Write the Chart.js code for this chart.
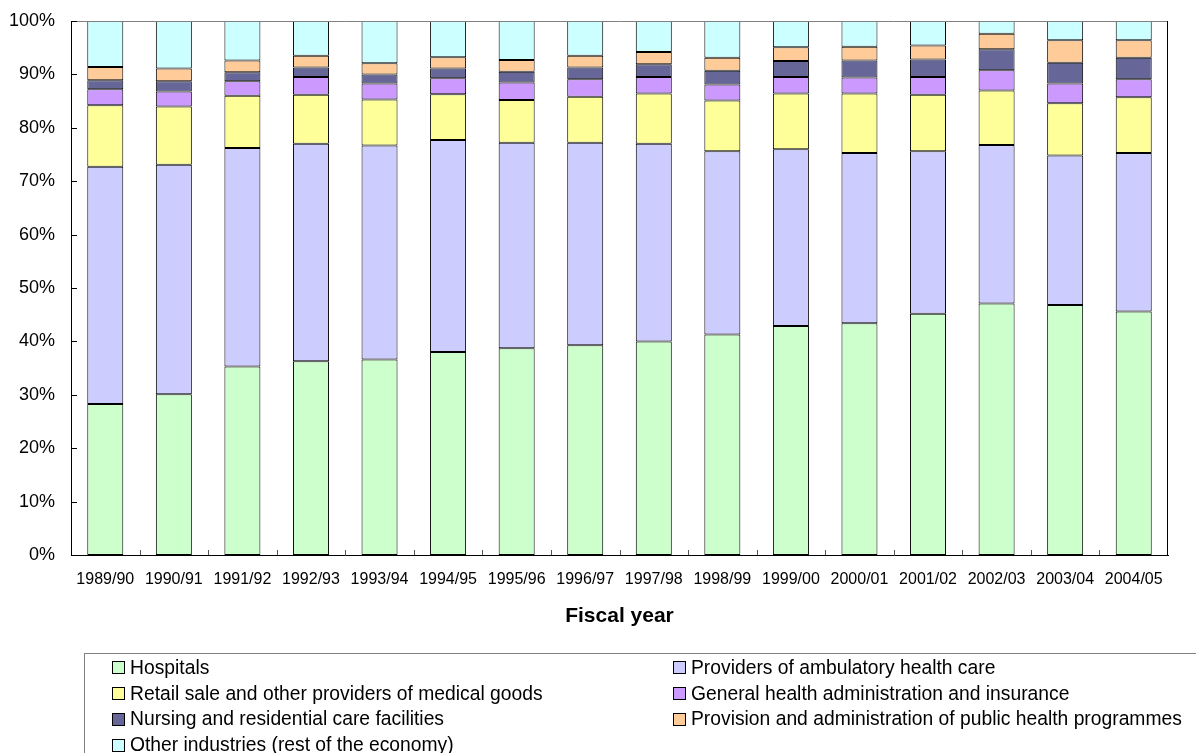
<!DOCTYPE html>
<html>
<head>
<meta charset="utf-8">
<script src="https://cdn.jsdelivr.net/npm/chart.js@4/dist/chart.umd.min.js"></script>
<style>
  html, body { margin: 0; padding: 0; background: #fff; overflow: hidden; }
  #wrap { position: relative; width: 1196px; height: 753px; }
  #chart { position: absolute; left: 0; top: 0; }
  #legend {
    position: absolute; left: 84px; top: 653px; width: 1200px; height: 200px;
    border: 1px solid #808080; box-sizing: border-box;
    display: grid; grid-template-columns: 561px 561px; grid-auto-rows: 25.8px;
    padding: 1px 0 0 27px;
    font-family: 'Liberation Sans', Arial, sans-serif; font-size: 19.3px; color: #000;
  }
  .item { display: flex; align-items: center; white-space: nowrap; }
  .swatch { width: 11px; height: 11px; border: 1px solid #000; margin-right: 5px; flex: none; }
</style>
</head>
<body>
<div id="wrap">
  <canvas id="chart" width="1196" height="753"></canvas>
  <div id="legend"></div>
</div>
<script>
// Fiscal years on the horizontal axis
const years = ['1989/90','1990/91','1991/92','1992/93','1993/94','1994/95','1995/96','1996/97',
               '1997/98','1998/99','1999/00','2000/01','2001/02','2002/03','2003/04','2004/05'];

// Share of total health expenditure (%) by provider industry
const hospitals   = [28.3, 30.1, 35.3, 36.3, 36.6, 38.0, 38.7, 39.3, 40.0, 41.3, 42.9, 43.4, 45.2, 47.1, 46.8, 45.6];
const ambulatory  = [44.4, 43.0, 40.9, 40.7, 40.1, 39.7, 38.5, 37.9, 37.0, 34.3, 33.1, 31.9, 30.4, 29.7, 28.0, 29.7];
const retail      = [11.5, 10.9,  9.8,  9.2,  8.6,  8.6,  8.0,  8.6,  9.4,  9.5, 10.4, 11.1, 10.6, 10.2,  9.8, 10.4];
const generalAdm  = [ 3.0,  2.8,  2.7,  3.3,  3.0,  3.0,  3.3,  3.3,  3.1,  3.0,  3.1,  3.0,  3.3,  3.8,  3.7,  3.4];
const nursing     = [ 1.7,  1.9,  1.7,  1.8,  1.7,  1.8,  2.0,  2.2,  2.4,  2.6,  3.0,  3.2,  3.3,  3.9,  3.9,  4.0];
const publicProg  = [ 2.5,  2.4,  2.2,  2.2,  2.1,  2.1,  2.2,  2.2,  2.3,  2.4,  2.6,  2.6,  2.6,  2.9,  4.2,  3.3];
const otherInd    = [ 8.6,  8.9,  7.4,  6.5,  7.9,  6.8,  7.3,  6.5,  5.8,  6.9,  4.9,  4.8,  4.6,  2.4,  3.6,  3.6];

// Vertical axis ticks
const yTicks = [0, 10, 20, 30, 40, 50, 60, 70, 80, 90, 100];

const seriesNames = [
  'Hospitals',
  'Providers of ambulatory health care',
  'Retail sale and other providers of medical goods',
  'General health administration and insurance',
  'Nursing and residential care facilities',
  'Provision and administration of public health programmes',
  'Other industries (rest of the economy)'
];
const seriesValues = [hospitals, ambulatory, retail, generalAdm, nursing, publicProg, otherInd];
const seriesColors = ['#CCFFCC', '#CCCCFF', '#FFFF99', '#CC99FF', '#666699', '#FFCC99', '#CCFFFF'];

const FONT = "'Liberation Sans', Arial, sans-serif";

// Short tick marks pointing into the plot, plus the top and right frame lines
const innerTicks = {
  id: 'innerTicks',
  afterDraw(chart) {
    const { ctx, chartArea: a, scales: { x, y } } = chart;
    ctx.save();
    ctx.lineWidth = 1;
    // frame
    ctx.strokeStyle = '#808080';
    ctx.beginPath();
    ctx.moveTo(a.left, a.top + 0.5); ctx.lineTo(a.right, a.top + 0.5);
    ctx.stroke();
    ctx.strokeStyle = '#000';
    ctx.beginPath();
    ctx.moveTo(a.right - 0.5, a.top); ctx.lineTo(a.right - 0.5, a.bottom);
    ctx.stroke();
    // y ticks
    ctx.strokeStyle = '#000';
    yTicks.forEach(v => {
      const py = Math.round(y.getPixelForValue(v)) + 0.5;
      ctx.beginPath(); ctx.moveTo(a.left, py); ctx.lineTo(a.left + 6, py); ctx.stroke();
    });
    // x ticks between categories
    ctx.strokeStyle = '#555';
    for (let i = 1; i < years.length; i++) {
      const px = Math.round((x.getPixelForValue(i - 1) + x.getPixelForValue(i)) / 2) + 0.5;
      ctx.beginPath(); ctx.moveTo(px, a.bottom); ctx.lineTo(px, a.bottom - 5); ctx.stroke();
    }
    ctx.restore();
  }
};

const chart = new Chart(document.getElementById('chart'), {
  type: 'bar',
  data: {
    labels: years,
    datasets: seriesNames.map((name, i) => ({
      label: name,
      data: seriesValues[i],
      backgroundColor: seriesColors[i],
      borderColor: '#000',
      borderWidth: 1,
      borderSkipped: false,
      barPercentage: 0.525,
      categoryPercentage: 1.0
    }))
  },
  options: {
    responsive: false,
    animation: false,
    layout: { padding: { left: 0, top: 21, right: 28, bottom: 0 } },
    plugins: {
      legend: { display: false },
      tooltip: { enabled: false }
    },
    scales: {
      x: {
        stacked: true,
        grid: { display: false, drawTicks: false },
        border: { display: true, color: '#000', width: 1 },
        ticks: { color: '#000', font: { family: FONT, size: 16 }, padding: 15, maxRotation: 0, autoSkip: false },
        title: {
          display: true, text: 'Fiscal year', color: '#000',
          font: { family: FONT, size: 21, weight: 'bold' },
          padding: { top: 0, bottom: 124 }
        },
        afterFit(scale) { scale.height = 198; }
      },
      y: {
        stacked: true,
        min: 0, max: 100,
        grid: { display: false, drawTicks: false },
        border: { display: true, color: '#000', width: 1 },
        afterBuildTicks(scale) { scale.ticks = yTicks.map(v => ({ value: v })); },
        ticks: {
          color: '#000', font: { family: FONT, size: 18 }, padding: 16,
          callback: v => v + '%'
        },
        afterFit(scale) {
          scale.width = 71;
          scale.paddingTop = 0;
          scale.paddingBottom = 0;
        }
      }
    }
  },
  plugins: [innerTicks]
});

// Two-column legend in a framed box below the chart
const legendEl = document.getElementById('legend');
chart.data.datasets.forEach(ds => {
  const item = document.createElement('div');
  item.className = 'item';
  const sw = document.createElement('span');
  sw.className = 'swatch';
  sw.style.background = ds.backgroundColor;
  const txt = document.createElement('span');
  txt.textContent = ds.label;
  item.appendChild(sw);
  item.appendChild(txt);
  legendEl.appendChild(item);
});
</script>
</body>
</html>
